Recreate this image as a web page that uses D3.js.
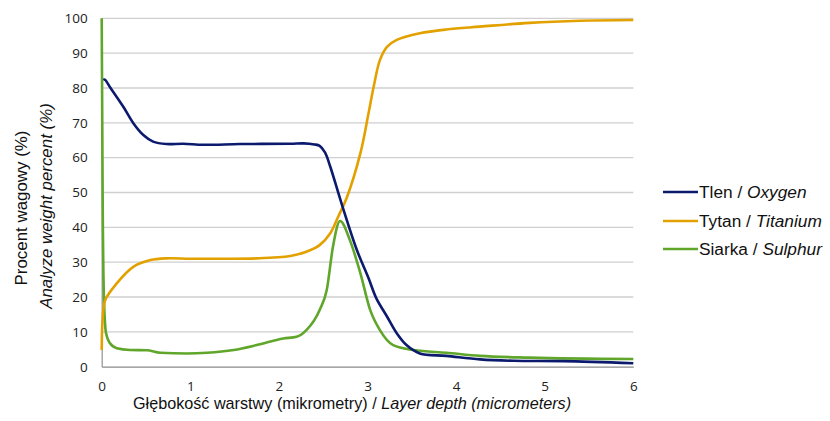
<!DOCTYPE html>
<html><head><meta charset="utf-8">
<script src="https://cdn.jsdelivr.net/npm/d3@7/dist/d3.min.js"></script>
<style>body{margin:0;background:#fff}svg{display:block}</style>
</head><body><svg id="c" width="830" height="421"></svg>
<script>
const xTicks = [0,1,2,3,4,5,6];
const yTicks = [0,10,20,30,40,50,60,70,80,90,100];
const seriesNames = ["Tlen", "Tytan", "Siarka"];
const seriesNamesEn = ["Oxygen", "Titanium", "Sulphur"];
const seriesColors = ["#0c1a6e", "#e3a100", "#5fa62a"];

const oxygenX = [0.018,0.035,0.10,0.244,0.357,0.47,0.58,0.73,0.92,1.15,1.56,2.13,2.28,2.40,2.46,2.52,2.58,2.71,2.88,3.01,3.10,3.22,3.33,3.44,3.59,3.89,4.27,4.65,5.21,6.0];
const oxygenY = [82.3,82.4,80.0,74.6,69.9,66.5,64.6,63.9,64.0,63.7,63.9,64.0,64.1,63.8,63.4,61.5,57.4,46.6,33.5,25.5,19.6,14.4,9.6,6.2,3.8,3.1,2.1,1.7,1.6,1.0];

const titanX = [0.0,0.01,0.04,0.17,0.36,0.55,0.73,1.0,1.37,1.75,2.13,2.31,2.46,2.58,2.67,2.77,2.92,3.01,3.07,3.14,3.22,3.33,3.59,3.89,4.27,4.83,5.4,6.0];
const titanY = [4.8,13.4,19.1,23.9,28.7,30.6,31.1,31.0,31.0,31.1,31.8,33.0,34.9,38.3,43.1,48.8,61.3,72.5,80.4,88.0,91.8,93.8,95.7,96.8,97.6,98.7,99.3,99.5];

const sulphurX = [0.0,0.011,0.026,0.049,0.094,0.17,0.32,0.51,0.66,0.96,1.19,1.49,1.75,2.05,2.20,2.31,2.46,2.54,2.61,2.69,2.80,2.92,3.03,3.14,3.29,3.52,3.89,4.27,4.83,6.0];
const sulphurY = [100,47.8,19.1,9.6,6.7,5.3,4.8,4.7,4.0,3.8,4.0,4.8,6.2,8.1,8.6,10.5,16.3,22.0,34.4,41.8,36.4,26.8,16.3,10.5,6.2,4.8,4.0,3.1,2.6,2.2];

const seriesX = [oxygenX, titanX, sulphurX];
const seriesY = [oxygenY, titanY, sulphurY];

const svg = d3.select("#c");
svg.append("rect").attr("width",830).attr("height",421).attr("fill","#fff");
const x = d3.scaleLinear().domain([0,6]).range([101.7,633.3]);
const y = d3.scaleLinear().domain([0,100]).range([366.7,18.3]);

// gridlines
svg.append("g").selectAll("line").data(yTicks.filter(d=>d>0)).join("line")
  .attr("x1",x(0)).attr("x2",x(6)).attr("y1",d=>y(d)).attr("y2",d=>y(d))
  .attr("stroke","#cfcfcf").attr("stroke-width",1.3);

// axes
const yAxis = d3.axisLeft(y).tickValues(yTicks).tickSize(0).tickPadding(14).tickFormat(d3.format("d"));
const gy = svg.append("g").attr("transform",`translate(${x(0)},0)`).call(yAxis);
gy.select(".domain").attr("stroke","#9a9a9a").attr("stroke-width",1.3);
gy.selectAll("text").attr("font-family","Open Sans").attr("font-size",13.5).attr("fill","#222");

const xAxis = d3.axisBottom(x).tickValues(xTicks).tickSize(0).tickPadding(15).tickFormat(d3.format("d"));
const gx = svg.append("g").attr("transform",`translate(0,${y(0)})`).call(xAxis);
gx.select(".domain").attr("stroke","#8a8a8a").attr("stroke-width",1.3);
gx.selectAll("text").attr("font-family","Open Sans").attr("font-size",13.5).attr("fill","#222");

// lines
const curves = [d3.curveCatmullRom.alpha(0.5), d3.curveCatmullRom.alpha(0.5), d3.curveMonotoneX];
const order = [2,1,0];
order.forEach(i=>{
  const line = d3.line().curve(curves[i]);
  const pts = seriesX[i].map((v,j)=>[x(v), y(seriesY[i][j])]);
  svg.append("path").attr("d",line(pts)).attr("fill","none")
    .attr("stroke",seriesColors[i]).attr("stroke-width",2.6).attr("stroke-linejoin","round");
});

// axis titles
const tf = "Liberation Sans, Arial, sans-serif";
const xt = svg.append("text").attr("x",352).attr("y",409).attr("text-anchor","middle")
  .attr("font-family",tf).attr("font-size",16.2).attr("fill","#111");
xt.append("tspan").text("Głębokość warstwy (mikrometry) / ");
xt.append("tspan").attr("font-style","italic").text("Layer depth (micrometers)");

svg.append("text").attr("transform","translate(26.5,208) rotate(-90)").attr("text-anchor","middle")
  .attr("font-family",tf).attr("font-size",16.9).attr("fill","#111").text("Procent wagowy (%)");
svg.append("text").attr("transform","translate(51.5,206) rotate(-90)").attr("text-anchor","middle")
  .attr("font-family",tf).attr("font-size",16.9).attr("font-style","italic").attr("fill","#111").text("Analyze weight percent (%)");

// legend
const legY = [192,221,249];
seriesNames.forEach((n,i)=>{
  svg.append("line").attr("x1",663).attr("x2",698).attr("y1",legY[i]).attr("y2",legY[i])
    .attr("stroke",seriesColors[i]).attr("stroke-width",2.6);
  const t = svg.append("text").attr("x",699).attr("y",legY[i]+6).attr("font-family",tf)
    .attr("font-size",17.3).attr("fill","#111");
  t.append("tspan").text(n+" / ");
  t.append("tspan").attr("font-style","italic").text(seriesNamesEn[i]);
});
</script></body></html>
